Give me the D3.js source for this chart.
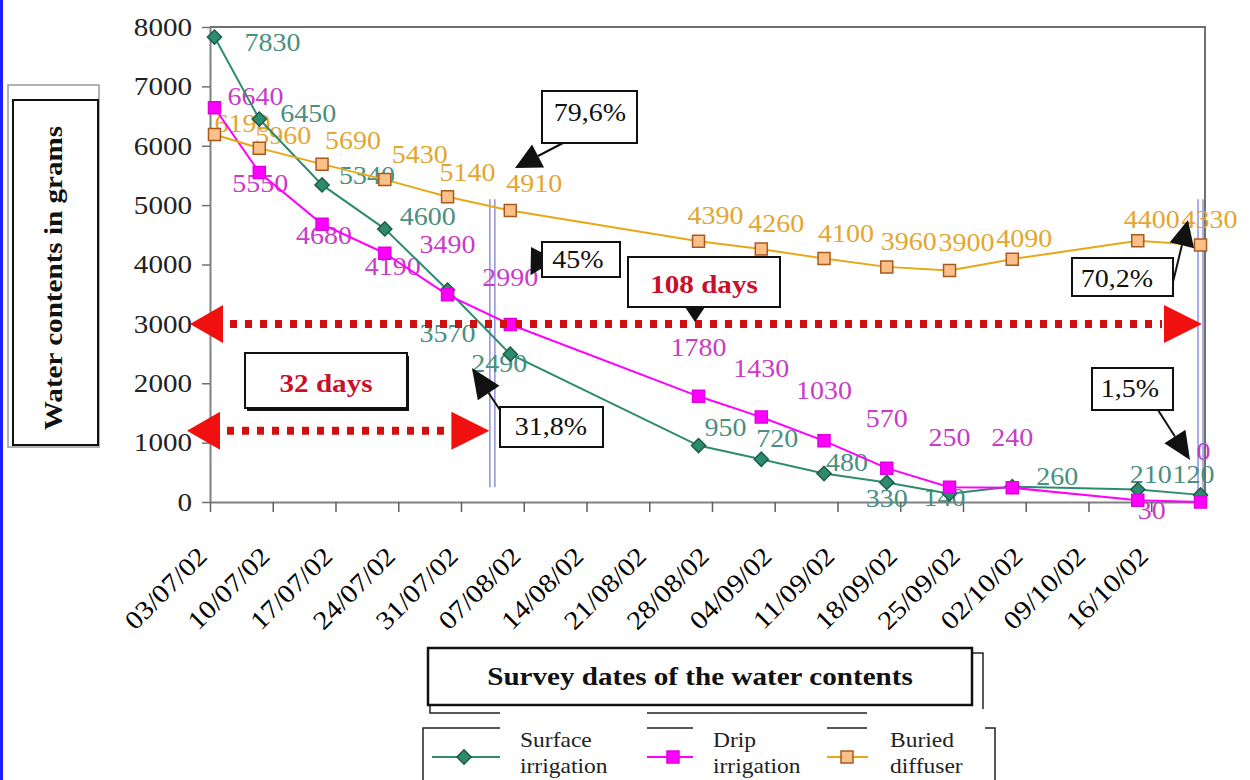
<!DOCTYPE html>
<html>
<head>
<meta charset="utf-8">
<title>Water contents</title>
<script src="https://cdn.jsdelivr.net/npm/d3@7/dist/d3.min.js"></script>
<style>
    body { margin: 0; background: #fff; }
    text { font-family: "Liberation Serif", "Times New Roman", serif; }
</style>
</head>
<body>
<script>
//survey dates of the measurements (dd/mm/yy)
var surveyDates = ["03/07/02", "08/07/02", "15/07/02", "22/07/02", "29/07/02", "05/08/02", "26/08/02",
                   "02/09/02", "09/09/02", "16/09/02", "23/09/02", "30/09/02", "14/10/02", "21/10/02"];

//water contents in grams for each system
var surfaceIrrigation = [7830, 6450, 5340, 4600, 3570, 2490, 950, 720, 480, 330, 140, 260, 210, 120];
var dripIrrigation    = [6640, 5550, 4680, 4190, 3490, 2990, 1780, 1430, 1030, 570, 250, 240, 30, 0];
var buriedDiffuser    = [6190, 5960, 5690, 5430, 5140, 4910, 4390, 4260, 4100, 3960, 3900, 4090, 4400, 4330];

//axis ticks
var tickLabels = ["03/07/02", "10/07/02", "17/07/02", "24/07/02", "31/07/02", "07/08/02", "14/08/02", "21/08/02",
                  "28/08/02", "04/09/02", "11/09/02", "18/09/02", "25/09/02", "02/10/02", "09/10/02", "16/10/02"];
var yTicks = [0, 1000, 2000, 3000, 4000, 5000, 6000, 7000, 8000];

var seriesNames = ["Surface irrigation", "Drip irrigation", "Buried diffuser"];

//where each data label sits relative to its point (px)
var surfaceLabelOffsets = [[58,5],[49,-6],[45,-9],[43,-12],[0,43],[-11,9],[27,-18],[16,-21],[23,-11],[0,16],[-5,4],[45,-10],[13,-15],[-7,-20]];
var dripLabelOffsets    = [[41,-11],[1,11],[2,11],[8,13],[0,-50],[0,-47],[0,-49],[0,-49],[0,-50],[0,-50],[0,-50],[0,-50],[14,10],[3,-50]];
var buriedLabelOffsets  = [[28,-11],[24,-13],[31,-24],[35,-25],[20,-24],[24,-27],[17,-26],[15,-26],[22,-25],[22,-25],[17,-28],[12,-21],[14,-21],[9,-25]];

window.onload = drawChart;

function drawChart(){

    var width = 1250,
        height = 780;

    var svg = d3.select("body")
        .append("svg")
        .attr("width", width)
        .attr("height", height);

    //text stretched a bit wider, like the original
    function stretchText(parent, x, y, str, size, angle){
        return parent.append("text")
            .attr("transform", "translate(" + x + "," + y + ") rotate(" + (angle || 0) + ") scale(1.12,1)")
            .style("font-size", size + "px")
            .text(str);
    }

    var parseDate = d3.utcParse("%d/%m/%y");

    //date axis, one slot per day, points at the middle of their day
    var x = d3.scaleUtc()
        .domain([parseDate("03/07/02"), parseDate("22/10/02")])
        .range([210, 1205]);

    var y = d3.scaleLinear()
        .domain([0, 8000])
        .range([502, 27]);

    function px(d){ return x(d3.utcHour.offset(parseDate(d), 12)); }

    //blue left border of the figure
    svg.append("rect")
        .attr("x", 0).attr("y", 0)
        .attr("width", 3).attr("height", height)
        .attr("fill", "#1e1eff");

    //plot frame (top and right)
    svg.append("path")
        .attr("d", "M" + x.range()[0] + "," + y(8000) + "H" + x.range()[1] + "V" + y(0))
        .attr("fill", "none")
        .attr("stroke", "#707070")
        .attr("stroke-width", 2);

    //y axis
    var yAxis = svg.append("g")
        .attr("transform", "translate(" + x.range()[0] + ",0)")
        .call(d3.axisLeft(y).tickValues(yTicks).tickFormat(d3.format("d"))
            .tickSize(8).tickSizeOuter(0).tickPadding(8));
    yAxis.select(".domain").attr("stroke", "#808080").attr("stroke-width", 2);
    yAxis.selectAll(".tick line").attr("stroke", "#707070").attr("stroke-width", 1.5);
    yAxis.selectAll(".tick text")
        .attr("transform", "scale(1.12,1)")
        .style("font-size", "26px")
        .style("font-family", "'Liberation Serif', serif")
        .attr("fill", "#222");

    //x axis
    var xAxis = svg.append("g")
        .attr("transform", "translate(0," + y(0) + ")")
        .call(d3.axisBottom(x)
            .tickValues(tickLabels.map(parseDate))
            .tickFormat(function(d, i){ return tickLabels[i]; })
            .tickSize(10)
            .tickSizeOuter(0));
    xAxis.select(".domain").attr("stroke", "#808080").attr("stroke-width", 2);
    xAxis.selectAll(".tick line").attr("stroke", "#606060").attr("stroke-width", 1.5);
    xAxis.selectAll(".tick text")
        .attr("y", 0)
        .attr("dy", 0)
        .attr("text-anchor", "end")
        .attr("transform", "translate(-2,56) rotate(-45) scale(1.12,1)")
        .style("font-size", "26px")
        .style("font-family", "'Liberation Serif', serif")
        .attr("fill", "#000");

    //blue double markers at the 32 and 108 day limits
    [parseDate("03/08/02"), parseDate("21/10/02")].forEach(function(d, i){
        var cx = x(d3.utcHour.offset(d, 12));
        [-2.5, 2.5].forEach(function(o){
            svg.append("line")
                .attr("x1", cx + o).attr("x2", cx + o)
                .attr("y1", y(5100)).attr("y2", i == 0 ? y(250) : y(0))
                .attr("stroke", "#9090e0")
                .attr("stroke-width", 1.5);
        });
    });

    var series = [
        {name: seriesNames[0], values: surfaceIrrigation, offsets: surfaceLabelOffsets,
         line: "#2e8b6e", label: "#4a8f80", fill: "#2e8b6e", stroke: "#1d5e49", shape: "diamond"},
        {name: seriesNames[1], values: dripIrrigation, offsets: dripLabelOffsets,
         line: "#ff00ff", label: "#c83cc8", fill: "#ff00ff", stroke: "#e000e0", shape: "square"},
        {name: seriesNames[2], values: buriedDiffuser, offsets: buriedLabelOffsets,
         line: "#e6a817", label: "#e3a630", fill: "#fbbf88", stroke: "#a85a1e", shape: "square"}
    ];

    //data labels go under the markers
    series.forEach(function(s){
        s.values.forEach(function(v, i){
            stretchText(svg, px(surveyDates[i]) + s.offsets[i][0], y(v) + s.offsets[i][1], v, 25)
                .attr("text-anchor", "middle")
                .attr("dominant-baseline", "central")
                .attr("fill", s.label);
        });
    });

    var line = d3.line()
        .x(function(d, i){ return px(surveyDates[i]); })
        .y(function(d){ return y(d); });

    var diamond = d3.symbol().type(d3.symbolSquare).size(100),
        square = d3.symbol().type(d3.symbolSquare).size(144);

    function marker(g, s, cx, cy){
        g.append("path")
            .attr("d", s.shape == "diamond" ? diamond() : square())
            .attr("transform", "translate(" + cx + "," + cy + ")" + (s.shape == "diamond" ? " rotate(45)" : ""))
            .attr("fill", s.fill)
            .attr("stroke", s.stroke)
            .attr("stroke-width", 1.5);
    }

    series.forEach(function(s){
        svg.append("path")
            .datum(s.values)
            .attr("d", line)
            .attr("fill", "none")
            .attr("stroke", s.line)
            .attr("stroke-width", 2);
        s.values.forEach(function(v, i){
            marker(svg, s, px(surveyDates[i]), y(v));
        });
    });

    //red dotted double arrows
    function redArrow(x1, x2, yy){
        svg.append("line")
            .attr("x1", x1 + 40).attr("x2", x2 - 40)
            .attr("y1", yy).attr("y2", yy)
            .attr("stroke", "#d30e0e")
            .attr("stroke-width", 8)
            .attr("stroke-dasharray", "7,8");
        svg.append("path")
            .attr("d", "M" + x1 + "," + yy + "L" + (x1 + 33) + "," + (yy - 19) + "V" + (yy + 19) + "Z")
            .attr("fill", "#f01010");
        svg.append("path")
            .attr("d", "M" + x2 + "," + yy + "L" + (x2 - 38) + "," + (yy - 19) + "V" + (yy + 19) + "Z")
            .attr("fill", "#f01010");
    }
    redArrow(x.range()[0] - 20, x.range()[1] - 3, y(3000));
    redArrow(x.range()[0] - 23, px("03/08/02") - 3, y(1200));

    //black callout arrows
    function callout(x1, y1, x2, y2, len, wid){
        var a = Math.atan2(y2 - y1, x2 - x1),
            bx = x2 - len * Math.cos(a),
            by = y2 - len * Math.sin(a),
            nx = -Math.sin(a) * wid / 2,
            ny = Math.cos(a) * wid / 2;
        svg.append("line")
            .attr("x1", x1).attr("y1", y1)
            .attr("x2", bx).attr("y2", by)
            .attr("stroke", "#111")
            .attr("stroke-width", 2);
        svg.append("path")
            .attr("d", "M" + x2 + "," + y2 + "L" + (bx + nx) + "," + (by + ny) + "L" + (bx - nx) + "," + (by - ny) + "Z")
            .attr("fill", "#111");
    }

    function box(x0, y0, w, h, sw){
        svg.append("rect")
            .attr("x", x0).attr("y", y0)
            .attr("width", w).attr("height", h)
            .attr("fill", "#fff")
            .attr("stroke", "#111")
            .attr("stroke-width", sw || 2);
    }

    //percentage callouts
    callout(563, 143, 515, 168, 26, 26);
    box(542, 91, 95, 52);
    stretchText(svg, 590, 121, "79,6%", 25).attr("text-anchor", "middle").attr("fill", "#111");

    callout(546, 272, 531, 247, 24, 30);
    box(542, 242, 78, 35);
    stretchText(svg, 578, 268, "45%", 25).attr("text-anchor", "middle").attr("fill", "#111");

    callout(500, 410, 472, 368, 30, 26);
    box(500, 407, 103, 40);
    stretchText(svg, 551, 435, "31,8%", 25).attr("text-anchor", "middle").attr("fill", "#111");

    callout(1173, 282, 1188, 220, 26, 25);
    box(1072, 258, 101, 38);
    stretchText(svg, 1117, 287, "70,2%", 25).attr("text-anchor", "middle").attr("fill", "#111");

    callout(1158, 410, 1190, 460, 28, 25);
    box(1092, 368, 81, 42);
    stretchText(svg, 1130, 397, "1,5%", 25).attr("text-anchor", "middle").attr("fill", "#111");

    //day span boxes
    svg.append("rect")
        .attr("x", 247).attr("y", 356)
        .attr("width", 162).attr("height", 55)
        .attr("fill", "#111");
    box(245, 353, 162, 55);
    stretchText(svg, 326, 392, "32 days", 26)
        .attr("text-anchor", "middle")
        .style("font-weight", "bold")
        .attr("fill", "#c8102a");

    box(628, 257, 152, 50);
    stretchText(svg, 704, 293, "108 days", 26)
        .attr("text-anchor", "middle")
        .style("font-weight", "bold")
        .attr("fill", "#c8102a");
    svg.append("path")
        .attr("d", "M685,307L705,307L695,322Z")
        .attr("fill", "#111");

    //y axis title
    svg.append("rect")
        .attr("x", 8).attr("y", 85)
        .attr("width", 91).attr("height", 362)
        .attr("fill", "#fff")
        .attr("stroke", "#999")
        .attr("stroke-width", 1.5);
    box(13, 100, 85, 345, 2);
    stretchText(svg, 62, 278, "Water contents in grams", 26, -90)
        .attr("text-anchor", "middle")
        .style("font-weight", "bold")
        .attr("fill", "#111");

    //shadow box behind the x title and the legend frame
    svg.append("rect")
        .attr("x", 430).attr("y", 653)
        .attr("width", 553).attr("height", 60)
        .attr("fill", "none")
        .attr("stroke", "#222")
        .attr("stroke-width", 1.5);
    svg.append("path")
        .attr("d", "M423,790V728H995V790")
        .attr("fill", "none")
        .attr("stroke", "#222")
        .attr("stroke-width", 1.5);

    //white backgrounds of the legend texts
    [[500, 709, 147], [693, 720, 134], [867, 709, 118]].forEach(function(r){
        svg.append("rect")
            .attr("x", r[0]).attr("y", r[1])
            .attr("width", r[2]).attr("height", 80)
            .attr("fill", "#fff");
    });

    //x axis title
    box(428, 648, 544, 57, 2.5);
    stretchText(svg, 700, 685, "Survey dates of the water contents", 26)
        .attr("text-anchor", "middle")
        .style("font-weight", "bold")
        .attr("fill", "#111");

    //legend
    var legendItems = [
        {x1: 432, x2: 500, mx: 464, tx: 520},
        {x1: 647, x2: 693, mx: 673, tx: 713},
        {x1: 827, x2: 868, mx: 847, tx: 890}
    ];
    series.forEach(function(s, i){
        var it = legendItems[i],
            words = s.name.split(" ");
        svg.append("line")
            .attr("x1", it.x1).attr("x2", it.x2)
            .attr("y1", 757).attr("y2", 757)
            .attr("stroke", s.line)
            .attr("stroke-width", 2);
        marker(svg, s, it.mx, 757);
        stretchText(svg, it.tx, 747, words[0], 21).attr("fill", "#222");
        stretchText(svg, it.tx, 773, words[1], 21).attr("fill", "#222");
    });
}
</script>
</body>
</html>
